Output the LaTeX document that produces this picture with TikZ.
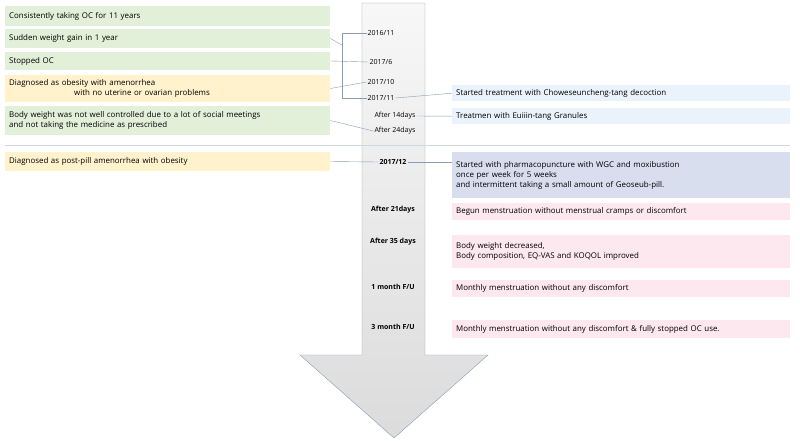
\documentclass[tikz,border=0pt]{standalone}
\usepackage{fontspec}
\setmainfont{Open Sans}
\usetikzlibrary{positioning}
\definecolor{grn}{HTML}{E2EFD9}
\definecolor{ylw}{HTML}{FFF2CC}
\definecolor{lblue}{HTML}{EAF3FB}
\definecolor{dblue}{HTML}{D9DEEF}
\definecolor{pnk}{HTML}{FCE8EE}
\definecolor{lnc}{HTML}{8C9BB5}
\begin{document}
\begin{tikzpicture}[x=1pt,y=-1pt,font=\fontsize{7.9}{9.8}\selectfont]
\tikzset{
	leftbox/.style = { anchor=west, minimum width=325pt, text width=317pt, align=left, inner sep=3pt },
	rightbox/.style = { anchor=north west, minimum width=338pt, text width=330pt, align=left, inner sep=3pt },
	date/.style = { font=\fontsize{7}{8}\selectfont, inner sep=1pt },
	bolddate/.style = { date, font=\fontsize{7}{8}\selectfont\bfseries },
	link/.style = { draw=lnc, thin }
}
	\useasboundingbox (0,0) rectangle (800,440);

	% big arrow
	\shade[top color=gray!6, bottom color=gray!28, draw=lnc]
		(362,3) -- (425,3) -- (425,355) -- (488,355) -- (394,438) -- (300,355) -- (362,355) -- cycle;
	\draw[draw=lnc!40] (5,145) -- (790,145);

	% left column
	\node (ocYears) [leftbox, fill=grn, minimum height=20pt] at (5,16) {Consistently taking OC for 11 years};
	\node (weightGain) [leftbox, fill=grn, minimum height=19pt] at (5,38.5) {Sudden weight gain in 1 year};
	\node (stopOC) [leftbox, fill=grn, minimum height=18pt] at (5,61) {Stopped OC};
	\node (diagObesity) [leftbox, fill=ylw, minimum height=27pt] at (5,88.5) {Diagnosed as obesity with amenorrhea\\\hspace{65pt}with no uterine or ovarian problems};
	\node (notControlled) [leftbox, fill=grn, minimum height=29pt] at (5,120.5) {Body weight was not well controlled due to a lot of social meetings\\and not taking the medicine as prescribed};
	\node (postPill) [leftbox, fill=ylw, minimum height=19pt] at (5,161.5) {Diagnosed as post-pill amenorrhea with obesity};

	% dates on the arrow
	\node (d1611) [date] at (381,33) {2016/11};
	\node (d176) [date] at (381,62) {2017/6};
	\node (d1710) [date] at (381,82) {2017/10};
	\node (d1711) [date] at (381,98) {2017/11};
	\node (after14) [date] at (395,116) {After 14days};
	\node (after24) [date] at (395,131) {After 24days};
	\node (d1712) [bolddate] at (393,162) {2017/12};
	\node (after21) [bolddate] at (393,210) {After 21days};
	\node (after35) [bolddate] at (393,242) {After 35 days};
	\node (fu1) [bolddate] at (393,287) {1 month F/U};
	\node (fu3) [bolddate] at (393,327) {3 month F/U};

	% right column
	\node (choweseun) [rightbox, fill=lblue, minimum height=16pt] at (452,85) {Started treatment with Choweseuncheng-tang decoction};
	\node (euiiin) [rightbox, fill=lblue, minimum height=16pt] at (452,108) {Treatmen with Euiiin-tang Granules};
	\node (pharma) [rightbox, fill=dblue, minimum height=46pt] at (452,152) {Started with pharmacopuncture with WGC and moxibustion\\once per week for 5 weeks\\and intermittent taking a small amount of Geoseub-pill.};
	\node (menses) [rightbox, fill=pnk, minimum height=17pt] at (452,203) {Begun menstruation without menstrual cramps or discomfort};
	\node (decreased) [rightbox, fill=pnk, minimum height=33pt] at (452,235) {Body weight decreased,\\Body composition, EQ-VAS and KOQOL improved};
	\node (monthly) [rightbox, fill=pnk, minimum height=17pt] at (452,280) {Monthly menstruation without any discomfort};
	\node (stopped) [rightbox, fill=pnk, minimum height=18pt] at (452,320) {Monthly menstruation without any discomfort \& fully stopped OC use.};

	% paths
	\coordinate (brTop) at (342,33);
	\coordinate (brBot) at (342,98);
	\draw[link] (d1611.west) -- (brTop) -- (brBot) -- (d1711.west);
	\draw[link] (weightGain.east) -- (342,45);
	\draw[link] (stopOC.east) -- (d176.west);
	\draw[link] (diagObesity.east) -- (d1710.west);
	\draw[link] (notControlled.east) -- (after24.west);
	\draw[link] (postPill.east) -- (d1712.west);
	\draw[link] (d1711.east) -- (choweseun.west);
	\draw[link] (after14.east) -- (euiiin.west);
	\draw[link] (d1712.east) -- (pharma.north west|-d1712);
\end{tikzpicture}
\end{document}
